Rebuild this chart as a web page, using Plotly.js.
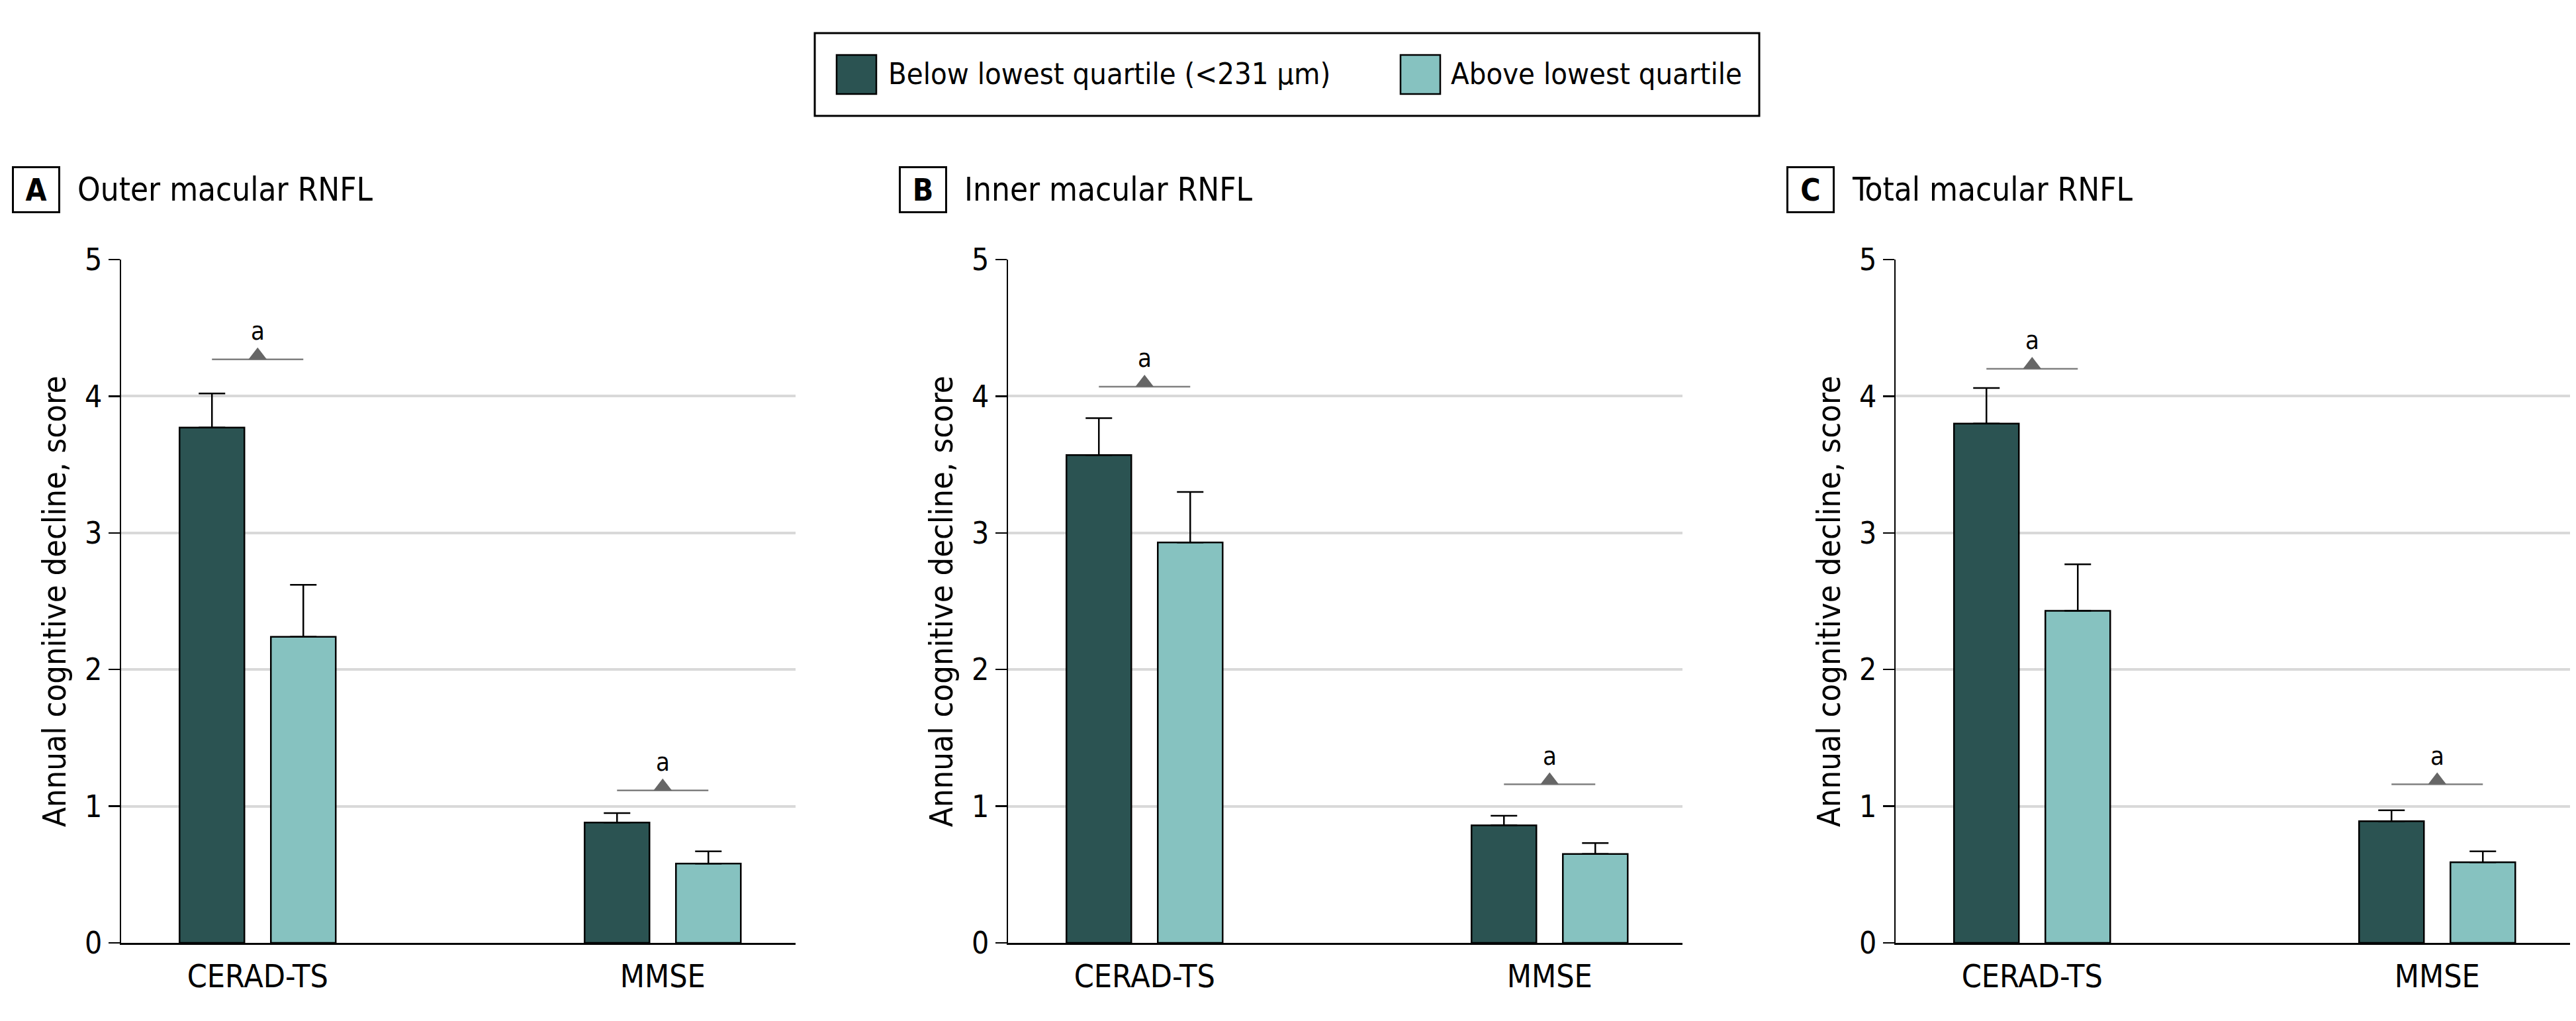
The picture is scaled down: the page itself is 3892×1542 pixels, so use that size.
<!DOCTYPE html>
<html>
<head>
<meta charset="utf-8">
<script src="https://cdn.plot.ly/plotly-3.0.1.min.js"></script>
<style>
  html, body { margin: 0; padding: 0; background: #ffffff; }
  #chart { width: 3892px; height: 1542px; }
</style>
</head>
<body>
<div id="chart"></div>
<script>
// ---------------- DATA ----------------
const categories = ['CERAD-TS', 'MMSE'];
const seriesNames = ['Below lowest quartile (<231 μm)', 'Above lowest quartile'];
const panelLetters = ['A', 'B', 'C'];
const panelTitles = ['Outer macular RNFL', 'Inner macular RNFL', 'Total macular RNFL'];
const yTickValues = [0, 1, 2, 3, 4, 5];

// Panel A: outer macular RNFL
const outerBelow = [3.77, 0.88];
const outerBelowUpper = [4.02, 0.95];
const outerAbove = [2.24, 0.58];
const outerAboveUpper = [2.62, 0.67];
const outerSignif = [4.27, 1.115];

// Panel B: inner macular RNFL
const innerBelow = [3.57, 0.86];
const innerBelowUpper = [3.84, 0.93];
const innerAbove = [2.93, 0.65];
const innerAboveUpper = [3.30, 0.73];
const innerSignif = [4.07, 1.16];

// Panel C: total macular RNFL
const totalBelow = [3.80, 0.89];
const totalBelowUpper = [4.06, 0.97];
const totalAbove = [2.43, 0.59];
const totalAboveUpper = [2.77, 0.67];
const totalSignif = [4.20, 1.16];

const signifLabel = 'a';

// ---------------- STYLE / GEOMETRY ----------------
const W = 3892, H = 1542;
const FONT = '"DejaVu Sans Condensed", "Liberation Sans Narrow", Arial, sans-serif';
const darkColor = '#2b5352';
const lightColor = '#86c2c0';
const axisLeftPx = [183, 1523, 2864];
const plotWidthPx = 1019;
const yTopPx = 392, yBottomPx = 1424;
const yMax = 5;
const pxPerUnit = (yBottomPx - yTopPx) / yMax;
const xRange = [-0.337, 1.328];
const bargap = 0.549;
const bargroupgap = 0.29;
const slot = (1 - bargap) / 2;
const barCenterOffset = slot / 2;

const px = v => v / W;
const py = v => 1 - v / H;

const panels = [
  { below: outerBelow, belowUp: outerBelowUpper, above: outerAbove, aboveUp: outerAboveUpper, sig: outerSignif },
  { below: innerBelow, belowUp: innerBelowUpper, above: innerAbove, aboveUp: innerAboveUpper, sig: innerSignif },
  { below: totalBelow, belowUp: totalBelowUpper, above: totalAbove, aboveUp: totalAboveUpper, sig: totalSignif }
];

const catIdx = categories.map((c, i) => i);

const traces = [];
const annotations = [];
const shapes = [];
const layout = {
  width: W, height: H,
  margin: { l: 0, r: 0, t: 0, b: 0 },
  paper_bgcolor: '#ffffff', plot_bgcolor: '#ffffff',
  font: { family: FONT, size: 46, color: '#000000' },
  showlegend: false,
  barmode: 'group',
  bargap: bargap,
  bargroupgap: bargroupgap
};

panels.forEach((p, k) => {
  const xa = k === 0 ? 'x' : 'x' + (k + 1);
  const ya = k === 0 ? 'y' : 'y' + (k + 1);
  const xKey = k === 0 ? 'xaxis' : 'xaxis' + (k + 1);
  const yKey = k === 0 ? 'yaxis' : 'yaxis' + (k + 1);

  const barLine = { color: '#000000', width: 2.5 };
  const errStyle = { type: 'data', symmetric: false, color: '#000000', thickness: 2.5, width: 20 };

  traces.push({
    type: 'bar', name: seriesNames[0], x: catIdx, y: p.below, xaxis: xa, yaxis: ya,
    marker: { color: darkColor, line: barLine },
    error_y: Object.assign({ array: p.belowUp.map((u, i) => u - p.below[i]), arrayminus: p.below.map(() => 0) }, errStyle),
    hoverinfo: 'skip'
  });
  traces.push({
    type: 'bar', name: seriesNames[1], x: catIdx, y: p.above, xaxis: xa, yaxis: ya,
    marker: { color: lightColor, line: barLine },
    error_y: Object.assign({ array: p.aboveUp.map((u, i) => u - p.above[i]), arrayminus: p.above.map(() => 0) }, errStyle),
    hoverinfo: 'skip'
  });

  // significance brackets
  const lx = [], ly = [];
  catIdx.forEach((c, i) => {
    lx.push(c - barCenterOffset, c + barCenterOffset, null);
    ly.push(p.sig[i], p.sig[i], null);
  });
  traces.push({
    type: 'scatter', mode: 'lines', x: lx, y: ly, xaxis: xa, yaxis: ya,
    line: { color: '#808080', width: 2.5 }, hoverinfo: 'skip', showlegend: false
  });
  traces.push({
    type: 'scatter', mode: 'markers', x: catIdx, y: p.sig.map(s => s + 6 / pxPerUnit), xaxis: xa, yaxis: ya,
    marker: { symbol: 'triangle-up', size: 24, color: '#666666', line: { width: 0 } },
    hoverinfo: 'skip', showlegend: false
  });
  catIdx.forEach((c, i) => {
    annotations.push({
      xref: xa, yref: ya, x: c, y: p.sig[i], yshift: 43,
      text: signifLabel, showarrow: false, xanchor: 'center', yanchor: 'middle',
      font: { family: FONT, size: 38, color: '#000000' }
    });
  });

  const left = axisLeftPx[k];
  layout[xKey] = {
    domain: [px(left), px(left + plotWidthPx)],
    range: xRange,
    anchor: ya,
    tickmode: 'array', tickvals: catIdx, ticktext: categories,
    ticks: '', showgrid: false, zeroline: false,
    showline: true, linecolor: '#000000', linewidth: 2.5,
    tickfont: { family: FONT, size: 48, color: '#000000' },
    ticklabelstandoff: 7,
    fixedrange: true
  };
  layout[yKey] = {
    domain: [py(yBottomPx), py(yTopPx)],
    range: [0, yMax],
    anchor: xa,
    tickmode: 'array', tickvals: yTickValues, ticktext: yTickValues.map(String),
    ticks: 'outside', ticklen: 17, tickwidth: 2.5, tickcolor: '#000000',
    showgrid: true, gridcolor: '#d9d9d9', gridwidth: 4,
    zeroline: false, showline: true, linecolor: '#000000', linewidth: 2.5,
    tickfont: { family: FONT, size: 46, color: '#000000' },
    ticklabelstandoff: 0,
    fixedrange: true
  };

  // y-axis title
  annotations.push({
    xref: 'paper', yref: 'paper', x: px(left - 101), y: py((yTopPx + yBottomPx) / 2),
    text: 'Annual cognitive decline, score', textangle: -90, showarrow: false,
    xanchor: 'center', yanchor: 'middle',
    font: { family: FONT, size: 48.5, color: '#000000' }
  });
  // panel letter box
  annotations.push({
    xref: 'paper', yref: 'paper', x: px(left - 128.5), y: py(286.5),
    text: '<b>' + panelLetters[k] + '</b>', showarrow: false,
    xanchor: 'center', yanchor: 'middle',
    width: 67, height: 65, borderpad: 0, bordercolor: '#000000', borderwidth: 3,
    font: { family: FONT, size: 46, color: '#000000' }
  });
  // panel title
  annotations.push({
    xref: 'paper', yref: 'paper', x: px(left - 68), y: py(286),
    text: panelTitles[k], showarrow: false, xanchor: 'left', yanchor: 'middle',
    font: { family: FONT, size: 49, color: '#000000' }
  });
});

// manual legend (large swatches)
shapes.push({
  type: 'rect', xref: 'paper', yref: 'paper',
  x0: px(1231), x1: px(2658), y0: py(175), y1: py(50),
  line: { color: '#000000', width: 3 }, fillcolor: 'rgba(0,0,0,0)'
});
const legendItems = [
  { name: seriesNames[0], color: darkColor, sx: 1264, tx: 1340 },
  { name: seriesNames[1], color: lightColor, sx: 2116, tx: 2190 }
];
legendItems.forEach(it => {
  shapes.push({
    type: 'rect', xref: 'paper', yref: 'paper',
    x0: px(it.sx), x1: px(it.sx + 60), y0: py(142), y1: py(83),
    line: { color: '#000000', width: 2.5 }, fillcolor: it.color
  });
  annotations.push({
    xref: 'paper', yref: 'paper', x: px(it.tx), y: py(112),
    text: it.name, showarrow: false, xanchor: 'left', yanchor: 'middle',
    font: { family: FONT, size: 45, color: '#000000' }
  });
});

layout.annotations = annotations;
layout.shapes = shapes;

Plotly.newPlot('chart', traces, layout, { staticPlot: true, displayModeBar: false });
</script>
</body>
</html>
